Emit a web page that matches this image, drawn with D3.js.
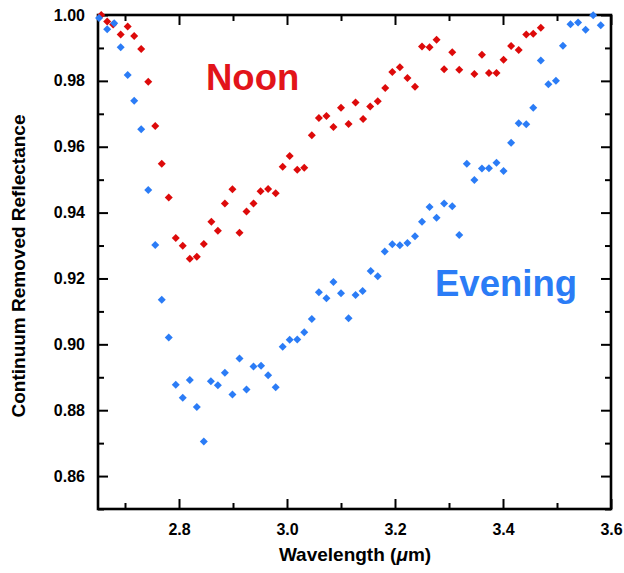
<!DOCTYPE html>
<html>
<head>
<meta charset="utf-8">
<script src="https://cdn.jsdelivr.net/npm/d3@7"></script>
<style>
  body { margin: 0; background: #fff; }
  svg { display: block; font-family: "Liberation Sans", Arial, sans-serif; }
</style>
</head>
<body>
<div id="chart"></div>
<script>
// wavelength (um) / continuum removed reflectance
const noonWavelength = [2.656, 2.667, 2.678, 2.692, 2.705, 2.717, 2.730, 2.743, 2.756, 2.768,
  2.781, 2.794, 2.807, 2.820, 2.833, 2.846, 2.860, 2.872, 2.885, 2.899,
  2.912, 2.925, 2.938, 2.951, 2.965, 2.979, 2.992, 3.005, 3.019, 3.032,
  3.046, 3.059, 3.073, 3.086, 3.100, 3.114, 3.127, 3.141, 3.154, 3.168,
  3.182, 3.195, 3.209, 3.223, 3.237, 3.250, 3.264, 3.277, 3.291, 3.306,
  3.319, 3.347, 3.361, 3.374, 3.388, 3.401, 3.415, 3.429, 3.443, 3.456, 3.470];
const noonReflectance = [1.000, 0.9980, 0.9971, 0.9941, 0.9965, 0.9936, 0.9897, 0.9797, 0.9663, 0.9548,
  0.9446, 0.9323, 0.9299, 0.9260, 0.9266, 0.9305, 0.9372, 0.9345, 0.9428, 0.9471,
  0.9339, 0.9403, 0.9428, 0.9465, 0.9472, 0.9459, 0.9539, 0.9572, 0.9530, 0.9536,
  0.9635, 0.9687, 0.9693, 0.9660, 0.9718, 0.9669, 0.9734, 0.9684, 0.9722, 0.9738,
  0.9778, 0.9827, 0.9841, 0.9809, 0.9782, 0.9904, 0.9902, 0.9925, 0.9835, 0.9887,
  0.9834, 0.9821, 0.9879, 0.9824, 0.9824, 0.9864, 0.9906, 0.9894, 0.9941, 0.9943, 0.9961];

const eveningWavelength = [2.652, 2.667, 2.680, 2.692, 2.705, 2.717, 2.730, 2.743, 2.756, 2.768,
  2.781, 2.794, 2.807, 2.820, 2.833, 2.846, 2.859, 2.872, 2.885, 2.899,
  2.912, 2.925, 2.938, 2.952, 2.965, 2.979, 2.992, 3.005, 3.019, 3.032,
  3.046, 3.059, 3.073, 3.086, 3.100, 3.114, 3.127, 3.140, 3.155, 3.168,
  3.181, 3.195, 3.209, 3.223, 3.237, 3.250, 3.264, 3.277, 3.291, 3.306,
  3.319, 3.333, 3.347, 3.361, 3.374, 3.388, 3.401, 3.415, 3.429, 3.443,
  3.456, 3.470, 3.484, 3.498, 3.511, 3.525, 3.539, 3.553, 3.567, 3.581];
const eveningReflectance = [0.9991, 0.9957, 0.9975, 0.9902, 0.9818, 0.9740, 0.9653, 0.9469, 0.9302, 0.9135,
  0.9021, 0.8877, 0.8838, 0.8892, 0.8810, 0.8705, 0.8888, 0.8876, 0.8914, 0.8848,
  0.8957, 0.8863, 0.8933, 0.8935, 0.8906, 0.8870, 0.8993, 0.9014, 0.9015, 0.9037,
  0.9077, 0.9158, 0.9140, 0.9189, 0.9155, 0.9079, 0.9150, 0.9162, 0.9223, 0.9207,
  0.9282, 0.9304, 0.9301, 0.9308, 0.9328, 0.9372, 0.9417, 0.9384, 0.9428, 0.9419,
  0.9332, 0.9548, 0.9499, 0.9534, 0.9535, 0.9551, 0.9526, 0.9612, 0.9671, 0.9668,
  0.9718, 0.9862, 0.9790, 0.9800, 0.9907, 0.9972, 0.9977, 0.9955, 0.9999, 0.9969];

const xMajorTicks = [2.8, 3.0, 3.2, 3.4, 3.6];
const xMinorTicks = [2.7, 2.9, 3.1, 3.3, 3.5];
const yMajorTicks = [0.86, 0.88, 0.90, 0.92, 0.94, 0.96, 0.98, 1.00];
const yMinorTicks = [0.85, 0.87, 0.89, 0.91, 0.93, 0.95, 0.97, 0.99];

const W = 624, H = 573;
const margin = {top: 15, right: 13, bottom: 64, left: 98};
const iw = W - margin.left - margin.right;
const ih = H - margin.top - margin.bottom;

const RED = "#dd0a0a", BLUE = "#2b7cf6";

const svg = d3.select("#chart").append("svg")
    .attr("width", W)
    .attr("height", H);
const g = svg.append("g").attr("transform", `translate(${margin.left},${margin.top})`);

const x = d3.scaleLinear().domain([2.65, 3.6]).range([0, iw]);
const y = d3.scaleLinear().domain([0.85, 1.00]).range([ih, 0]);

// ticks, all pointing inward, on every side
const axisStyle = sel => {
    sel.select(".domain").remove();
    sel.selectAll(".tick line").attr("stroke", "#000").attr("stroke-width", 2);
    sel.selectAll("text").attr("font-size", 16).attr("font-weight", "bold").attr("fill", "#000");
};
g.append("g").attr("transform", `translate(0,${ih})`)
    .call(d3.axisBottom(x).tickValues(xMajorTicks).tickSize(-10).tickPadding(15).tickFormat(d3.format(".1f")))
    .call(axisStyle);
g.append("g").attr("transform", `translate(0,${ih})`)
    .call(d3.axisBottom(x).tickValues(xMinorTicks).tickSize(-6).tickFormat(""))
    .call(axisStyle);
g.append("g")
    .call(d3.axisTop(x).tickValues(xMajorTicks).tickSize(-10).tickFormat(""))
    .call(axisStyle);
g.append("g")
    .call(d3.axisTop(x).tickValues(xMinorTicks).tickSize(-6).tickFormat(""))
    .call(axisStyle);
g.append("g")
    .call(d3.axisLeft(y).tickValues(yMajorTicks).tickSize(-10).tickPadding(13).tickFormat(d3.format(".2f")))
    .call(axisStyle);
g.append("g")
    .call(d3.axisLeft(y).tickValues(yMinorTicks).tickSize(-6).tickFormat(""))
    .call(axisStyle);
g.append("g").attr("transform", `translate(${iw},0)`)
    .call(d3.axisRight(y).tickValues(yMajorTicks).tickSize(-10).tickFormat(""))
    .call(axisStyle);
g.append("g").attr("transform", `translate(${iw},0)`)
    .call(d3.axisRight(y).tickValues(yMinorTicks).tickSize(-6).tickFormat(""))
    .call(axisStyle);

g.append("rect")
    .attr("width", iw).attr("height", ih)
    .attr("fill", "none").attr("stroke", "#000").attr("stroke-width", 2.6);

// diamonds
const diamond = d3.symbol().type(d3.symbolSquare).size(32);
const drawSeries = (wl, refl, color) => {
    g.append("g").selectAll("path")
        .data(wl.map((d, i) => [d, refl[i]]))
        .join("path")
        .attr("d", diamond)
        .attr("transform", d => `translate(${x(d[0])},${y(d[1])}) rotate(45)`)
        .attr("fill", color);
};
drawSeries(noonWavelength, noonReflectance, RED);
drawSeries(eveningWavelength, eveningReflectance, BLUE);

// labels
g.append("text").attr("x", 206 - margin.left).attr("y", 90 - margin.top)
    .attr("font-size", 36.5).attr("font-weight", "bold").attr("fill", "#e2141a")
    .text("Noon");
g.append("text").attr("x", 435 - margin.left).attr("y", 296 - margin.top)
    .attr("font-size", 36.5).attr("font-weight", "bold").attr("fill", BLUE)
    .text("Evening");

svg.append("text")
    .attr("transform", `translate(25,${margin.top + ih / 2 + 4}) rotate(-90)`)
    .attr("text-anchor", "middle")
    .attr("font-size", 19).attr("font-weight", "bold")
    .text("Continuum Removed Reflectance");

const xt = svg.append("text")
    .attr("x", 355).attr("y", 561)
    .attr("text-anchor", "middle")
    .attr("font-size", 19).attr("font-weight", "bold");
xt.append("tspan").text("Wavelength (");
xt.append("tspan").attr("font-style", "italic").text("\u03bc");
xt.append("tspan").text("m)");
</script>
</body>
</html>
